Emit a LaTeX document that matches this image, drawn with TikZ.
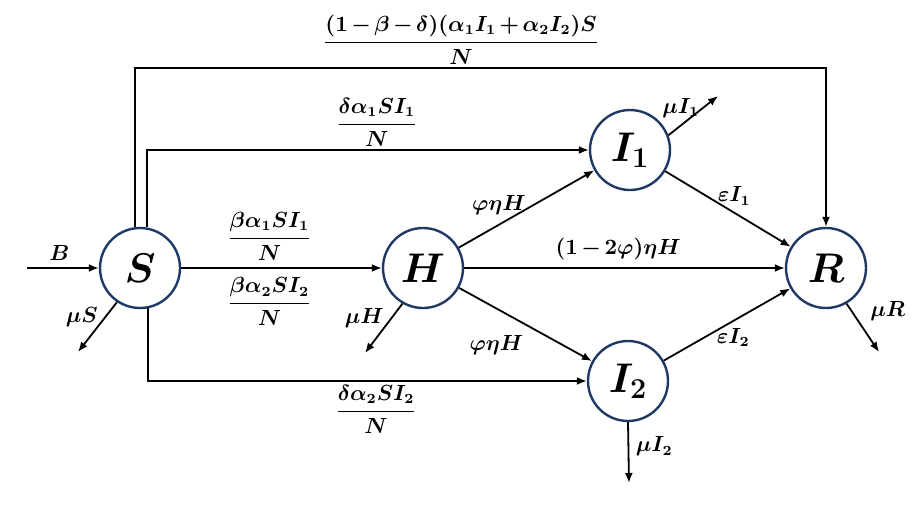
\documentclass[tikz,border=0pt]{standalone}
\usepackage{amsmath}
\usepackage{xcolor}
\usepackage{tikz}
\usetikzlibrary{arrows.meta}
\definecolor{navy}{HTML}{1F3864}
\newcommand{\ratefont}{\fontsize{10.5}{13}\selectfont\boldmath\medmuskip=2.5mu\relax\thickmuskip=3mu\relax}
\tikzset{
  comp/.style={circle,draw=navy,line width=1.2pt,minimum size=40pt,inner sep=0pt,
    font=\fontsize{22}{24}\selectfont\boldmath},
  flow/.style={-{Latex[length=5pt,width=4pt]},line width=0.9pt},
  rate/.style={font=\ratefont},
  frac/.style={rate,inner sep=1.5pt}
}
\begin{document}
\begin{tikzpicture}[x=0.5pt,y=-0.5pt]
      \useasboundingbox (0,0) rectangle (915,509);
      % compartments
      \node[comp] (S) at (140,268) {$S$};
      \node[comp] (H) at (423,268) {$H$};
      \node[comp] (I1) at (630,150) {$I_1$};
      \node[comp] (I2) at (628,381) {$I_2$};
      \node[comp] (R) at (826,268) {$R$};
      % free ends
      \coordinate (top) at (0,68);
      \coordinate (Bin) at (27,268);
      \coordinate (muS) at (78,352);
      \coordinate (muH) at (365,353);
      \coordinate (muI1) at (718,96);
      \coordinate (muI2) at (629,483);
      \coordinate (muR) at (879,352);
      % flows
      \draw[flow] (Bin) -- node[rate,pos=0.45,above] {$B$} (S);
      \draw[flow] (S) -- node[rate,pos=0.44,above] {$\dfrac{\beta\alpha_1SI_1}{N}$}
                         node[rate,pos=0.44,below=1pt] {$\dfrac{\beta\alpha_2SI_2}{N}$} (H);
      \draw[flow] (S.97) -- (S.97 |- top) -| node[frac,pos=0.236,above] {$\dfrac{(1-\beta-\delta)(\alpha_1I_1+\alpha_2I_2)S}{N}$} (R.north);
      \draw[flow] (S.80) |- node[frac,pos=0.76,above] {$\dfrac{\delta\alpha_1SI_1}{N}$} (I1.west);
      \draw[flow] (S.281) |- node[frac,pos=0.76,below] {$\dfrac{\delta\alpha_2SI_2}{N}$} (I2.west);
      \draw[flow] (H) -- node[rate,pos=0.55,left] {$\varphi\eta H$} (I1);
      \draw[flow] (H) -- node[rate,pos=0.54,below left] {$\varphi\eta H$} (I2);
      \draw[flow] (H) -- node[rate,pos=0.48,above] {$(1-2\varphi)\eta H$} (R);
      \draw[flow] (I1) -- node[rate,pos=0.55,above] {$\varepsilon I_1$} (R);
      \draw[flow] (I2) -- node[rate,pos=0.55,below] {$\varepsilon I_2$} (R);
      % deaths
      \draw[flow] (S.236) -- node[rate,pos=0.3,left] {$\mu S$} (muS);
      \draw[flow] (H.240) -- node[rate,pos=0.3,left] {$\mu H$} (muH);
      \draw[flow] (I1.21) -- node[rate,pos=0.25,above] {$\mu I_1$} (muI1);
      \draw[flow] (I2.south) -- node[rate,pos=0.4,right] {$\mu I_2$} (muI2);
      \draw[flow] (R.300) -- node[rate,pos=0.5,above right] {$\mu R$} (muR);
    \end{tikzpicture}
\end{document}
